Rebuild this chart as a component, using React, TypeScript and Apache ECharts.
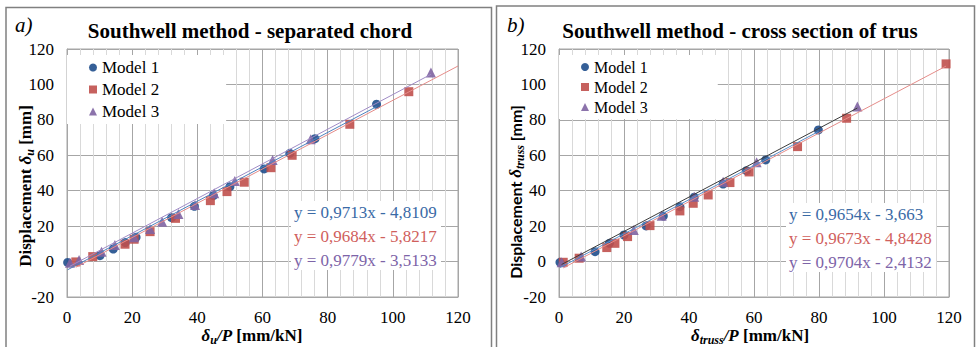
import React, { useEffect, useRef } from "react";
import * as echarts from "echarts";

// ---- Panel a) separated chord ----
const m1aX = [0.2, 10.1, 14.2, 17.9, 21.2, 32.1, 39.1, 44.9, 50.0, 60.5, 68.4, 76.1, 95.0];
const m1aY = [-0.5, 3.3, 7.1, 10.7, 13.7, 24.8, 31.2, 37.2, 42.3, 52.3, 61.1, 69.4, 88.8];
const m2aX = [2.7, 7.9, 17.8, 20.6, 25.5, 33.3, 44.0, 49.1, 54.4, 62.6, 69.1, 86.8, 104.9];
const m2aY = [-0.2, 2.8, 9.8, 12.6, 16.9, 24.4, 34.4, 39.5, 44.8, 53.0, 60.0, 77.5, 95.9];
const m3aX = [0.9, 3.7, 10.6, 14.7, 20.6, 25.5, 29.2, 34.2, 39.3, 45.2, 51.5, 63.1, 74.8, 111.7];
const m3aY = [-0.6, 0.9, 5.6, 9.4, 13.7, 18.4, 22.5, 26.9, 32.0, 38.6, 45.5, 57.4, 69.1, 106.7];
const slopesA = [0.9713, 0.9684, 0.9779];
const interceptsA = [-4.8109, -5.8217, -3.5133];
const trendEndA = [95.0, 120, 111.7];

// ---- Panel b) cross section of truss ----
const m1bX = [0.3, 11.1, 15.5, 20.0, 26.8, 32.1, 37.2, 41.6, 50.5, 57.7, 63.6, 79.8];
const m1bY = [-0.4, 5.6, 10.3, 15.0, 20.1, 25.7, 31.0, 36.3, 43.8, 51.3, 57.4, 74.3];
const m2bX = [1.3, 6.2, 14.7, 17.2, 21.1, 28.0, 37.2, 41.3, 45.9, 52.6, 58.5, 73.4, 88.5, 119.1];
const m2bY = [-0.4, 1.9, 7.9, 10.3, 14.1, 20.3, 28.6, 32.9, 37.6, 44.6, 50.6, 64.9, 80.9, 111.6];
const m3bX = [0.8, 6.8, 23.0, 31.6, 41.6, 50.5, 60.8, 91.8];
const m3bY = [-0.4, 2.8, 17.8, 25.9, 36.6, 45.1, 56.1, 87.5];
const slopesB = [0.9654, 0.9673, 0.9704];
const interceptsB = [-3.663, -4.8428, -2.4132];
const trendEndB = [79.8, 119.1, 91.8];

const modelNames = ["Model 1", "Model 2", "Model 3"];
const xTicks = { min: 0, max: 120, interval: 20 };
const yTicks = { min: -20, max: 120, interval: 20 };

const SERIF = "Liberation Serif, Times New Roman, serif";
const markerColors = ["#1f4e8c", "#c0504d", "#8064a2"];
const symbols = ["circle", "rect", "triangle"];
const symbolSizes = [9, 9, 10];
const trendColorsA = ["#4f81bd", "#e58c89", "#a08cc6"];
const trendColorsB = ["#5b8fc9", "#e58c89", "#3c3c3c"];
const eqColors = ["#3a6aa6", "#d0605c", "#7d64a8"];

const zip = (xs: number[], ys: number[]) => xs.map((x, i) => [x, ys[i]]);
const fmtEq = (m: number, b: number) =>
  `y = ${m.toFixed(4).replace(".", ",")}x ${b < 0 ? "-" : "+"} ${String(Math.abs(b)).replace(".", ",")}`;

export default function App() {
  const ref = useRef<HTMLDivElement>(null);
  useEffect(() => {
    if (!ref.current) return;
    const chart = echarts.init(ref.current, undefined, { renderer: "svg" });

    const panels = [
      { xs: [m1aX, m2aX, m3aX], ys: [m1aY, m2aY, m3aY], slopes: slopesA, ints: interceptsA, ends: trendEndA, tc: trendColorsA },
      { xs: [m1bX, m2bX, m3bX], ys: [m1bY, m2bY, m3bY], slopes: slopesB, ints: interceptsB, ends: trendEndB, tc: trendColorsB },
    ];

    const series: any[] = [];
    panels.forEach((p, pi) => {
      for (let k = 0; k < 3; k++) {
        const x0 = Math.min(...p.xs[k]);
        const x1 = p.ends[k];
        series.push({
          type: "line",
          name: modelNames[k] + " trend " + pi,
          xAxisIndex: pi,
          yAxisIndex: pi,
          showSymbol: false,
          silent: true,
          z: 3,
          lineStyle: { color: p.tc[k], width: 1 },
          data: [
            [x0, p.slopes[k] * x0 + p.ints[k]],
            [x1, p.slopes[k] * x1 + p.ints[k]],
          ],
        });
      }
      for (let k = 0; k < 3; k++) {
        series.push({
          type: "scatter",
          name: modelNames[k],
          xAxisIndex: pi,
          yAxisIndex: pi,
          symbol: symbols[k],
          symbolSize: symbolSizes[k],
          z: 2,
          itemStyle: { color: markerColors[k], opacity: 0.9 },
          data: zip(p.xs[k], p.ys[k]),
        });
      }
    });

    const grids = [
      { left: 67, top: 49, width: 391, height: 248 },
      { left: 559, top: 49, width: 390, height: 248 },
    ];

    const mkX = (i: number) => ({
      type: "value",
      gridIndex: i,
      ...xTicks,
      axisLine: { show: true, onZero: false, lineStyle: { color: "#a6a6a6" } },
      axisTick: { show: false },
      axisLabel: { fontFamily: SERIF, fontSize: 17, color: "#000", margin: 12 },
      splitLine: { show: true, lineStyle: { color: "#a6a6a6" } },
      minorTick: { show: false, splitNumber: 5 },
      minorSplitLine: { show: true, lineStyle: { color: "#d9d9d9" } },
    });
    const mkY = (i: number) => ({
      type: "value",
      gridIndex: i,
      ...yTicks,
      axisLine: { show: true, onZero: false, lineStyle: { color: "#a6a6a6" } },
      axisTick: { show: false },
      axisLabel: { fontFamily: SERIF, fontSize: 17, color: "#000", margin: 13 },
      splitLine: { show: true, lineStyle: { color: "#a6a6a6" } },
    });

    const legendData = modelNames.map((n, k) => ({ name: n, icon: symbols[k] }));
    const mkLegend = (left: number, rightPad: number, fontSize: number, gap: number) => ({
      left,
      top: 55,
      orient: "vertical",
      padding: [4, rightPad, 4, 22],
      backgroundColor: "#fff",
      itemWidth: 8,
      itemHeight: 8,
      itemGap: gap,
      itemTextGap: 8,
      selectedMode: false,
      textStyle: { fontFamily: SERIF, fontSize, color: "#000" },
      data: legendData,
    });

    const rich = {
      b: { fontFamily: SERIF, fontWeight: "bold", fontSize: 17, lineHeight: 22, color: "#000" },
      d: { fontFamily: SERIF, fontWeight: "bold", fontStyle: "italic", fontSize: 17, lineHeight: 22, color: "#000" },
      s: { fontFamily: SERIF, fontWeight: "bold", fontStyle: "italic", fontSize: 12, lineHeight: 12, verticalAlign: "bottom", color: "#000" },
      n: { fontFamily: "Lato", fontWeight: "bold", fontSize: 16, lineHeight: 22, color: "#000" },
    };

    const txt = (x: number, y: number, text: string, extra: any) => ({
      type: "text",
      z: 100,
      x,
      y,
      style: { text, fontFamily: SERIF, fill: "#000", ...extra },
    });

    const eqBlock = (x: number, y: number, slopes: number[], ints: number[]) => [
      { type: "rect", z: 100, shape: { x: x - 3, y: y - 11, width: 150, height: 69 }, style: { fill: "#fff" } },
      ...slopes.map((m, k) =>
        txt(x, y + k * 24, fmtEq(m, ints[k]), {
          fill: eqColors[k],
          fontSize: 17,
          align: "left",
          verticalAlign: "middle",
        })
      ),
    ];

    const graphic: any[] = [
      { type: "rect", z: 100, shape: { x: 6, y: 7.5, width: 485.5, height: 350 }, style: { fill: "none", stroke: "#808080", lineWidth: 1.5 } },
      { type: "rect", z: 100, shape: { x: 496.5, y: 6, width: 478, height: 350 }, style: { fill: "none", stroke: "#808080", lineWidth: 1.5 } },
      txt(15, 25, "a)", { fontStyle: "italic", fontSize: 21, verticalAlign: "middle" }),
      txt(507, 25, "b)", { fontStyle: "italic", fontSize: 21, verticalAlign: "middle" }),
      txt(250, 31, "Southwell method - separated chord", { fontWeight: "bold", fontSize: 21, align: "center", verticalAlign: "middle" }),
      txt(740, 31, "Southwell method - cross section of trus", { fontWeight: "bold", fontSize: 21, align: "center", verticalAlign: "middle" }),
      {
        type: "text", z: 100, x: 25, y: 186, rotation: Math.PI / 2,
        style: { text: "{b|Displacement }{d|δ}{s|u}{b| [mm]}", rich, align: "center", verticalAlign: "middle" },
      },
      {
        type: "text", z: 100, x: 515, y: 192, rotation: Math.PI / 2,
        style: { text: "{n|Displacement }{d|δ}{s|truss}{n| [mm]}", rich, align: "center", verticalAlign: "middle" },
      },
      {
        type: "text", z: 100, x: 252, y: 335,
        style: { text: "{d|δ}{s|u}{d|/P}{b| [mm/kN]}", rich, align: "center", verticalAlign: "middle" },
      },
      {
        type: "text", z: 100, x: 750, y: 335,
        style: { text: "{d|δ}{s|truss}{d|/P}{b| [mm/kN]}", rich, align: "center", verticalAlign: "middle" },
      },
      ...eqBlock(294, 212, slopesA, interceptsA),
      ...eqBlock(789, 214, slopesB, interceptsB),
    ];

    chart.setOption({
      animation: false,
      backgroundColor: "#fff",
      grid: grids.map((g) => ({ ...g, show: true, borderColor: "#a6a6a6", borderWidth: 1 })),
      xAxis: [mkX(0), mkX(1)],
      yAxis: [mkY(0), mkY(1)],
      legend: [mkLegend(67, 67, 17, 5), mkLegend(559, 70, 16, 4)],
      series,
      graphic,
    } as any);

    return () => chart.dispose();
  }, []);

  return <div ref={ref} style={{ position: "fixed", left: 0, top: 0, width: 979, height: 347 }} />;
}
